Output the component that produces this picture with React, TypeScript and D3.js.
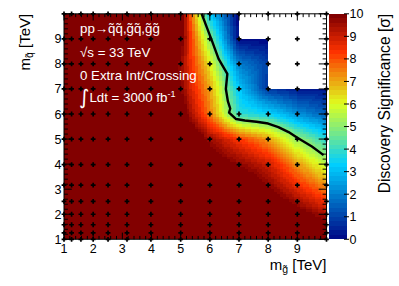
import React from 'react';
import * as d3 from 'd3';

// Scan grid (TeV), identical for gluino (x) and squark (y) masses
const gluinoMasses = [1, 1.26, 1.58, 2, 2.51, 3.16, 3.98, 5, 6, 7, 8, 9, 10];
const squarkMasses = [1, 1.26, 1.58, 2, 2.51, 3.16, 3.98, 5, 6, 7, 8, 9, 10];

// Discovery significance [sigma]; rows follow squarkMasses, columns follow gluinoMasses
const significance: number[][] = [
  [40, 38, 36, 34, 31, 28, 24, 20, 16, 14, 12.2, 11.2, 10.6],
  [38, 36, 34, 32, 30, 27, 23, 19, 15.5, 13.5, 12, 11, 10.4],
  [36, 34, 32, 30, 28, 25, 22, 18, 15, 12.5, 11.6, 10.8, 10.1],
  [33, 31, 30, 28, 26, 24, 20, 16, 13, 12, 11.2, 10.3, 9.4],
  [30, 29, 27, 26, 24, 22, 18, 14, 12.5, 11.5, 10.6, 9.5, 8.4],
  [27, 26, 25, 24, 22, 20, 17, 13, 11.5, 10.8, 9.8, 8.5, 7.2],
  [25, 24, 23, 22, 20, 18, 15, 12.5, 10.6, 9.8, 9.0, 7.2, 5.6],
  [23, 22, 21, 20, 18, 16, 14, 11.5, 9.6, 8.3, 7.2, 5.2, 3.8],
  [22, 21, 20, 19, 17, 15, 13, 10.5, 7.5, 3.9, 3.5, 2.3, 1.5],
  [21, 20, 19, 18, 16, 14, 12.5, 9.8, 7.0, 3.2, 0.8, 0.3, 0.2],
  [20, 19, 18, 17, 16, 14, 12.5, 9.6, 6.2, 2.0, 1.0, 0, 0],
  [20, 19, 18, 17, 16, 14, 12.5, 10.2, 4.9, 0, 0, 0, 0],
  [20, 19, 18, 17, 16, 14, 12.5, 10.4, 3.2, 0, 0, 0, 0],
];

// Regions without results (left white)
const noDataRegions = [
  { g0: 7, g1: 10, q0: 9, q1: 10 },
  { g0: 8, g1: 10, q0: 7, q1: 10 },
];

// 5 sigma discovery contour (gluino, squark) in TeV
const contour5: [number, number][] = [
  [5.72, 10.0], [5.9, 9.45], [6.08, 8.9], [6.3, 8.2], [6.6, 7.6], [6.55, 7.0],
  [6.62, 6.5], [6.7, 6.22], [6.66, 6.06], [6.9, 5.8], [7.2, 5.74], [7.6, 5.69],
  [8.0, 5.62], [8.35, 5.48], [8.7, 5.28], [9.0, 5.05], [9.5, 4.7], [9.9, 4.36],
];

const axisTickLabels = ['1', '2', '3', '4', '5', '6', '7', '8', '9'];
const zTickLabels = ['0', '1', '2', '3', '4', '5', '6', '7', '8', '9', '10'];

const paletteStops = [0, 0.34, 0.61, 0.84, 1];
const paletteColors = ['rgb(0,0,130)', 'rgb(0,207,255)', 'rgb(222,255,31)', 'rgb(255,51,0)', 'rgb(130,0,0)'];

const infoLines = ['0 Extra Int/Crossing'];

const FONT = "'Liberation Sans', Arial, Helvetica, sans-serif";
const W = 399, H = 286;
const frame = { left: 64, right: 326.5, top: 13.8, bottom: 239.3 };
const bar = { left: 329, right: 347 };

function interp(g: number, q: number) {
  const n = gluinoMasses.length;
  const i = Math.min(n - 2, Math.max(0, d3.bisectRight(gluinoMasses, g) - 1));
  const j = Math.min(n - 2, Math.max(0, d3.bisectRight(squarkMasses, q) - 1));
  const tg = (g - gluinoMasses[i]) / (gluinoMasses[i + 1] - gluinoMasses[i]);
  const tq = (q - squarkMasses[j]) / (squarkMasses[j + 1] - squarkMasses[j]);
  const v00 = significance[j][i], v10 = significance[j][i + 1];
  const v01 = significance[j + 1][i], v11 = significance[j + 1][i + 1];
  return v00 * (1 - tg) * (1 - tq) + v10 * tg * (1 - tq) + v01 * (1 - tg) * tq + v11 * tg * tq;
}

function masked(g: number, q: number) {
  return noDataRegions.some(r => g > r.g0 && g < r.g1 && q > r.q0 && q < r.q1);
}

export default function App() {
  const x = d3.scaleLinear().domain([1, 10]).range([frame.left, frame.right]);
  const y = d3.scaleLinear().domain([1, 10]).range([frame.bottom, frame.top]);
  const z = d3.scaleLinear().domain([0, 10]).range([frame.bottom, frame.top]);
  const pal = d3.scaleLinear<string>().domain(paletteStops).range(paletteColors).interpolate(d3.interpolateRgb);
  const nLevels = 50;
  const levelColor = (k: number) => pal(Math.min(1, Math.floor((k + 0.99) * 255 / nLevels) / 254));
  const colorOf = (v: number) => {
    let k = Math.floor(v / (10 / nLevels));
    k = Math.max(0, Math.min(nLevels - 1, k));
    return levelColor(k);
  };

  const step = 0.1;
  const nCells = Math.round(9 / step);
  const cells: { x: number; y: number; w: number; h: number; c: string }[] = [];
  for (let gi = 0; gi < nCells; gi++) {
    for (let qi = 0; qi < nCells; qi++) {
      const g0 = 1 + gi * step, g1 = g0 + step, q0 = 1 + qi * step, q1 = q0 + step;
      const gc = (g0 + g1) / 2, qc = (q0 + q1) / 2;
      if (masked(gc, qc)) continue;
      const v = interp(gc, qc);
      if (v <= 0) continue;
      cells.push({ x: x(g0), y: y(q1), w: x(g1) - x(g0), h: y(q0) - y(q1), c: colorOf(v) });
    }
  }

  const majors = d3.range(1, 10.001, 1);
  const minors = d3.range(1, 10.001, 0.2).filter(v => Math.abs(v - Math.round(v)) > 1e-6);
  const tlx = 6.7, tly = 7.8; // tick lengths
  const tickLines: JSX.Element[] = [];
  majors.forEach((v, i) => {
    tickLines.push(<line key={'bx' + i} x1={x(v)} x2={x(v)} y1={frame.bottom} y2={frame.bottom - tlx} />);
    tickLines.push(<line key={'tx' + i} x1={x(v)} x2={x(v)} y1={frame.top} y2={frame.top + tlx} />);
    tickLines.push(<line key={'ly' + i} x1={frame.left} x2={frame.left + tly} y1={y(v)} y2={y(v)} />);
    tickLines.push(<line key={'ry' + i} x1={frame.right} x2={frame.right - tly} y1={y(v)} y2={y(v)} />);
  });
  minors.forEach((v, i) => {
    tickLines.push(<line key={'bxm' + i} x1={x(v)} x2={x(v)} y1={frame.bottom} y2={frame.bottom - tlx / 2} />);
    tickLines.push(<line key={'txm' + i} x1={x(v)} x2={x(v)} y1={frame.top} y2={frame.top + tlx / 2} />);
    tickLines.push(<line key={'lym' + i} x1={frame.left} x2={frame.left + tly / 2} y1={y(v)} y2={y(v)} />);
    tickLines.push(<line key={'rym' + i} x1={frame.right} x2={frame.right - tly / 2} y1={y(v)} y2={y(v)} />);
  });

  const line = d3.line<[number, number]>().x(d => x(d[0])).y(d => y(d[1]));

  const markers: JSX.Element[] = [];
  gluinoMasses.forEach((g, i) => squarkMasses.forEach((q, j) => {
    markers.push(<path key={`m${i}_${j}`} d={`M${x(g) - 2.4},${y(q)}h4.8M${x(g)},${y(q) - 2.4}v4.8`} />);
  }));

  return (
    <svg width={W} height={H} style={{ position: 'absolute', left: 0, top: 0, background: '#fff' }} fontFamily={FONT}>
      <rect x={0} y={0} width={W} height={H} fill="#fff" />
      <g shapeRendering="crispEdges">
        {cells.map((c, i) => <rect key={i} x={c.x} y={c.y} width={c.w} height={c.h} fill={c.c} />)}
      </g>
      {/* color bar */}
      <g shapeRendering="crispEdges">
        {d3.range(nLevels).map(k => (
          <rect key={k} x={bar.left} width={bar.right - bar.left}
            y={z((k + 1) * 10 / nLevels)} height={z(k * 10 / nLevels) - z((k + 1) * 10 / nLevels)} fill={levelColor(k)} />
        ))}
      </g>
      <g stroke="#000" strokeWidth={1}>
        {zTickLabels.map((t, i) => <line key={i} x1={bar.right - 3} x2={bar.right + 2} y1={z(+t)} y2={z(+t)} />)}
      </g>
      <g fontSize={12.5} fill="#000">
        {zTickLabels.map((t, i) => <text key={i} x={bar.right + 2.5} y={z(+t)} dy="0.36em">{t}</text>)}
      </g>
      {/* frame */}
      <rect x={frame.left} y={frame.top} width={frame.right - frame.left} height={frame.bottom - frame.top}
        fill="none" stroke="#000" strokeWidth={1} />
      <g stroke="#000" strokeWidth={1}>{tickLines}</g>
      {/* contour */}
      <path d={line(contour5) || ''} fill="none" stroke="#000" strokeWidth={2.4} strokeLinejoin="round" />
      {/* grid points */}
      <g stroke="#000" strokeWidth={1.7}>{markers}</g>
      {/* axis labels */}
      <g fontSize={12.5} fill="#000">
        {axisTickLabels.map((t, i) => <text key={'x' + i} x={x(+t)} y={252.5} textAnchor="middle">{t}</text>)}
        {axisTickLabels.map((t, i) => <text key={'y' + i} x={61.5} y={y(+t)} dy="0.36em" textAnchor="end">{t}</text>)}
      </g>
      <text x={frame.right} y={269.5} fontSize={15} textAnchor="end" fill="#000">
        m<tspan fontSize={10.5} dy={3}>{'g\u0303'}</tspan><tspan dy={-3}> [TeV]</tspan>
      </text>
      <text transform={`translate(30,${frame.top}) rotate(-90)`} fontSize={15} textAnchor="end" fill="#000">
        m<tspan fontSize={10.5} dy={3}>{'q\u0303'}</tspan><tspan dy={-3}> [TeV]</tspan>
      </text>
      <text transform={`translate(390,${frame.top}) rotate(-90)`} fontSize={15.6} textAnchor="end" fill="#000">
        Discovery Significance [σ]
      </text>
      {/* info text */}
      <g fill="#fff" fontSize={13.3}>
        <text x={80} y={33}>{'pp\u2192q\u0303q\u0303,g\u0303q\u0303,g\u0303g\u0303'}</text>
        <text x={80} y={57}>{'\u221As = 33 TeV'}</text>
        <text x={80} y={80}>{infoLines[0]}</text>
        <text x={79} y={104}><tspan fontSize={20} fontFamily="'DejaVu Sans', sans-serif">{'\u222B'}</tspan><tspan dy={-2}>Ldt = 3000 fb</tspan><tspan fontSize={9} dy={-5}>-1</tspan></text>
      </g>
    </svg>
  );
}
